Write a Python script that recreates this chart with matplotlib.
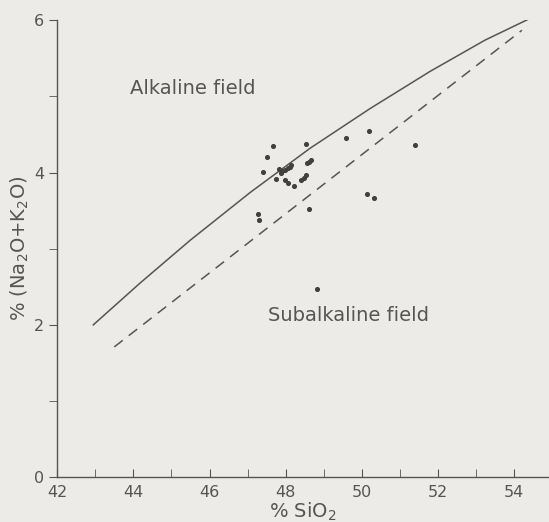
import matplotlib.pyplot as plt

# analysed samples: SiO2 vs Na2O+K2O (wt %)
sio2 = [47.66, 48.53, 49.58, 47.52, 47.41, 47.82, 47.9, 47.98, 48.05, 48.12, 48.15, 47.88,
        48.55, 48.62, 48.66, 47.75, 47.98, 48.07, 48.22, 48.4, 48.47, 48.54,
        48.6, 47.28, 47.3, 50.13, 50.32, 51.4, 50.19, 48.81]
alkali = [4.35, 4.38, 4.46, 4.21, 4.01, 4.05, 4.02, 4.04, 4.06, 4.08, 4.1, 4.0,
          4.12, 4.14, 4.16, 3.92, 3.9, 3.87, 3.82, 3.9, 3.93, 3.97,
          3.52, 3.45, 3.38, 3.72, 3.66, 4.36, 4.55, 2.47]

# alkaline / subalkaline boundary (solid curve)
div_x = [42.95, 44.18, 45.49, 47.07, 48.64, 50.21, 51.79, 53.23, 54.68]
div_y = [2.00, 2.55, 3.11, 3.74, 4.32, 4.84, 5.33, 5.74, 6.09]

# second boundary (dashed)
dash_x = [43.5, 54.2]
dash_y = [1.71, 5.87]

bg = "#ecebe8"
ink = "#555555"

fig = plt.figure(figsize=(5.49, 5.22), dpi=100, facecolor=bg)
ax = fig.add_axes([0.104, 0.086, 0.896, 0.875], facecolor=bg)

ax.plot(div_x, div_y, color=ink, lw=1.1)
ax.plot(dash_x, dash_y, color=ink, lw=1.1, dashes=(7, 5))
ax.scatter(sio2, alkali, s=7, color="#404040", zorder=3)

ax.text(45.57, 5.11, "Alkaline field", fontsize=14, color=ink, ha="center", va="center")
ax.text(49.66, 2.12, "Subalkaline field", fontsize=14, color=ink, ha="center", va="center")

ax.set_xlim(42, 54.91)
ax.set_ylim(0, 6)
ax.set_xticks(range(42, 55, 2))
ax.set_xticks(range(43, 55, 2), minor=True)
ax.set_yticks([0, 2, 4, 6])
ax.set_yticks([1, 3, 5], minor=True)
ax.tick_params(axis="x", which="both", direction="in", length=6, colors=ink, labelsize=11.5, pad=6)
ax.tick_params(axis="y", which="both", direction="out", length=6, colors=ink, labelsize=11.5)

for s in ["top", "right"]:
    ax.spines[s].set_visible(False)
for s in ["left", "bottom"]:
    ax.spines[s].set_color(ink)
    ax.spines[s].set_linewidth(1.0)

ax.set_xlabel("% SiO$_2$", fontsize=14, color=ink, labelpad=0)
ax.set_ylabel("% (Na$_2$O+K$_2$O)", fontsize=14, color=ink, labelpad=2)

fig.savefig("out.png", dpi=100, facecolor=bg)
